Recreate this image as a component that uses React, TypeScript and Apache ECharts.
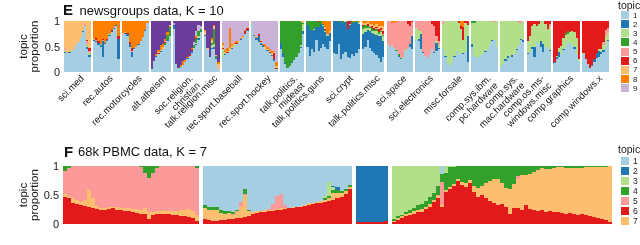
import React, { useEffect, useRef } from "react";
import * as echarts from "echarts";

const FONT = "'Liberation Sans', Arial, Helvetica, sans-serif";
const INK = "#1a1a1a";

// ColorBrewer "Paired" palette, topic k -> palette[k-1]
const palette = ["#a6cee3", "#1f78b4", "#b2df8a", "#33a02c", "#fb9a99", "#e31a1c", "#fdbf6f", "#ff7f00", "#cab2d6", "#6a3d9a"];

// ---------- Panel E: newsgroups, K = 10 ----------
const newsTitleLetter = "E";
const newsTitle = "newsgroups data, K = 10";
const newsNames = [
  "sci.med", "rec.autos", "rec.motorcycles", "alt.atheism", "soc.religion.\nchristian",
  "talk.religion.misc", "rec.sport.baseball", "rec.sport.hockey", "talk.politics.\nmideast", "talk.politics.guns",
  "sci.crypt", "talk.politics.misc", "sci.space", "sci.electronics", "misc.forsale",
  "comp.sys.ibm.\npc.hardware", "comp.sys.\nmac.hardware", "comp.os.ms-\nwindows.misc", "comp.graphics", "comp.windows.x",
];
// the topic that fills the rest of each document's bar
const newsDominant = [7, 8, 8, 10, 10, 10, 9, 9, 4, 2, 2, 8, 5, 5, 3, 3, 3, 3, 6, 6];
const newsTopics = [1, 2, 3, 4, 5, 6, 7, 8, 9, 10];
const newsLegend = ["1", "2", "3", "4", "5", "6", "7", "8", "9"];

const sciMed = {
  1: [0.38, 0.36, 0.38, 0.42, 0.46, 0.52, 0.58, 0.66, 0.78, 0.9, 0.45, 0.3],
  2: [0.02, 0, 0.01, 0, 0, 0, 0, 0, 0.02, 0, 0.05, 0.03],
  3: [0.03, 0.02, 0, 0.02, 0, 0, 0, 0.02, 0, 0, 0.03, 0.05],
  5: [0.04, 0.02, 0, 0, 0, 0, 0, 0, 0, 0.06, 0.08, 0.04],
  6: [0, 0, 0, 0, 0, 0, 0, 0, 0, 0, 0.02, 0.05],
};
const recAutos = {
  1: [0.6, 0.58, 0.52, 0.5, 0.3, 0.54, 0.6, 0.7, 0.78, 0.84, 0.9, 0.25],
  2: [0.02, 0.03, 0.05, 0.02, 0.3, 0.03, 0.02, 0.02, 0.02, 0.03, 0.02, 0.4],
  3: [0.02, 0, 0, 0.03, 0, 0, 0, 0.02, 0, 0, 0, 0],
  5: [0, 0.02, 0, 0, 0.02, 0, 0, 0, 0, 0.02, 0, 0],
  6: [0, 0.03, 0.04, 0, 0.02, 0, 0.02, 0, 0.02, 0, 0, 0.05],
};
const recMotorcycles = {
  1: [0.72, 0.74, 0.7, 0.5, 0.3, 0.45, 0.5, 0.52, 0.6, 0.68, 0.8, 0.96],
  2: [0, 0.02, 0.04, 0.05, 0.1, 0.02, 0, 0.03, 0, 0, 0.02, 0],
  5: [0.02, 0, 0, 0, 0.02, 0, 0, 0, 0, 0, 0, 0],
  6: [0, 0, 0.02, 0.04, 0.06, 0, 0, 0, 0, 0, 0, 0],
  7: [0.03, 0.02, 0, 0, 0, 0, 0, 0, 0, 0, 0, 0],
};
const altAtheism = {
  1: [0.05, 0.22, 0.3, 0.35, 0.4, 0.46, 0.53, 0.6, 0.7],
  2: [0, 0, 0.02, 0, 0.02, 0, 0, 0.03, 0],
  4: [0, 0, 0, 0, 0, 0, 0.03, 0.1, 0.18],
  6: [0, 0, 0, 0.02, 0, 0, 0.02, 0, 0],
  7: [0, 0, 0, 0.02, 0.02, 0.03, 0.02, 0, 0],
  8: [0, 0, 0.03, 0.04, 0.08, 0.06, 0.04, 0.05, 0.02],
  9: [0, 0, 0, 0, 0, 0, 0, 0, 0.03],
};
const socReligion = {
  1: [0.85, 0.15, 0.08, 0.1, 0.14, 0.2, 0.26, 0.32, 0.38, 0.45, 0.52, 0.62, 0.78],
  2: [0.08, 0, 0, 0, 0, 0, 0.02, 0, 0.03, 0, 0.02, 0.04, 0.02],
  3: [0, 0, 0, 0, 0, 0, 0, 0, 0, 0.02, 0.02, 0.04, 0],
  4: [0, 0, 0, 0, 0, 0, 0, 0, 0, 0.06, 0.08, 0.1, 0.05],
  6: [0, 0, 0, 0, 0, 0, 0, 0.03, 0.04, 0, 0.03, 0, 0],
  8: [0, 0, 0, 0.04, 0.07, 0.03, 0.02, 0, 0.03, 0, 0.03, 0, 0],
  9: [0.04, 0, 0, 0, 0, 0, 0, 0, 0, 0.05, 0.1, 0.12, 0.05],
};
const talkReligion = {
  1: [0.7, 0.45, 0.3, 0.45, 0.45, 0.25, 0.05],
  2: [0.02, 0, 0, 0.03, 0.05, 0.02, 0],
  3: [0, 0, 0, 0.04, 0.05, 0, 0],
  4: [0, 0, 0, 0.05, 0.3, 0.05, 0],
  7: [0.08, 0.02, 0, 0.05, 0.05, 0.02, 0.1],
  8: [0.02, 0, 0, 0.04, 0.03, 0, 0.05],
};
const recBaseball = {
  1: [0.3, 0.33, 0.38, 0.42, 0.45, 0.5, 0.54, 0.58, 0.62, 0.67, 0.74, 0.8],
  2: [0, 0.02, 0, 0, 0.02, 0, 0, 0, 0.02, 0, 0, 0.02],
  3: [0.15, 0.02, 0, 0, 0, 0.02, 0, 0, 0, 0, 0, 0],
  6: [0.02, 0, 0.02, 0, 0, 0, 0.02, 0, 0, 0, 0.06, 0.04],
  7: [0.05, 0.03, 0.02, 0.05, 0.04, 0.02, 0, 0.03, 0, 0.02, 0, 0.02],
  8: [0.05, 0.03, 0.05, 0.4, 0.03, 0.02, 0.04, 0, 0.03, 0.02, 0.03, 0],
};
const recHockey = {
  1: [0.95, 0.7, 0.62, 0.58, 0.52, 0.5, 0.46, 0.42, 0.38, 0.32, 0.22, 0.06],
  2: [0, 0.03, 0.05, 0.12, 0.04, 0.02, 0, 0.02, 0, 0.02, 0.03, 0],
  3: [0.02, 0, 0, 0, 0.02, 0, 0, 0, 0, 0, 0, 0],
  6: [0, 0, 0, 0.05, 0.02, 0, 0, 0, 0.02, 0, 0.12, 0.02],
  7: [0, 0.02, 0, 0, 0.02, 0, 0.03, 0.02, 0.02, 0.04, 0.02, 0.04],
  8: [0, 0, 0.02, 0, 0, 0.02, 0.05, 0.03, 0.04, 0.03, 0.02, 0.08],
};
const talkMideast = {
  1: [0.45, 0.3, 0.15, 0.08, 0.12, 0.18, 0.24, 0.3, 0.38, 0.48, 0.75],
  2: [0.12, 0.08, 0.03, 0, 0, 0.02, 0, 0, 0, 0.02, 0.05],
  3: [0, 0, 0, 0, 0, 0, 0, 0, 0, 0.03, 0.15],
  7: [0, 0, 0, 0, 0, 0, 0, 0, 0, 0.02, 0.03],
};
const talkGuns = {
  1: [0.5, 0.32, 0.45, 0.4, 0.62, 0.42, 0.48, 0.55, 0.5, 0.45, 0.6],
  3: [0, 0, 0, 0.02, 0, 0, 0, 0.02, 0.03, 0.02, 0],
  4: [0.08, 0.15, 0.2, 0.15, 0.12, 0.1, 0.05, 0.03, 0.02, 0, 0],
  6: [0, 0, 0, 0, 0, 0.02, 0, 0, 0.02, 0, 0],
  7: [0, 0, 0, 0, 0, 0, 0, 0, 0.03, 0.02, 0.04],
  8: [0, 0, 0, 0, 0, 0, 0, 0.05, 0.12, 0.25, 0.2],
};
const sciCrypt = {
  1: [0.38, 0.35, 0.55, 0.25, 0.35, 0.4, 0.3, 0.28, 0.35, 0.32, 0.38, 0.45],
  3: [0, 0, 0, 0, 0, 0.02, 0, 0.03, 0, 0, 0, 0.03],
  4: [0, 0, 0.02, 0, 0.03, 0, 0, 0, 0.03, 0.02, 0.02, 0],
  6: [0, 0, 0, 0, 0, 0, 0.15, 0.05, 0, 0, 0, 0],
  8: [0, 0, 0, 0, 0, 0, 0, 0, 0, 0.02, 0, 0.02],
};
const talkPoliticsMisc = {
  1: [0.45, 0.5, 0.62, 0.48, 0.42, 0.38, 0.33, 0.28, 0.2, 0.3],
  2: [0.3, 0.28, 0.2, 0.32, 0.34, 0.36, 0.4, 0.42, 0.5, 0.3],
  3: [0.1, 0.08, 0.05, 0.06, 0.05, 0.06, 0.08, 0.05, 0.08, 0.1],
  4: [0.05, 0.06, 0.03, 0.02, 0.05, 0.03, 0.03, 0.04, 0.02, 0.02],
  5: [0, 0, 0, 0.02, 0, 0, 0.03, 0, 0.02, 0.03],
  6: [0.02, 0, 0.05, 0, 0.05, 0.03, 0.02, 0.06, 0.05, 0.05],
  7: [0.05, 0.04, 0.03, 0.05, 0.04, 0.05, 0.06, 0.05, 0.04, 0.1],
};
const sciSpace = {
  1: [0.52, 0.5, 0.52, 0.48, 0.42, 0.3, 0.26, 0.3, 0.42, 0.48, 0.5, 0.45],
  2: [0, 0, 0, 0, 0, 0.02, 0, 0, 0, 0, 0.05, 0.25],
  3: [0.02, 0, 0, 0, 0, 0, 0, 0, 0.02, 0, 0, 0],
  4: [0, 0, 0, 0, 0.02, 0.03, 0.02, 0, 0, 0, 0, 0],
  6: [0, 0, 0, 0, 0, 0, 0, 0, 0, 0.05, 0.1, 0.02],
  8: [0, 0, 0.03, 0.04, 0.02, 0, 0, 0, 0, 0, 0, 0],
};
const sciElectronics = {
  1: [0.62, 0.6, 0.45, 0.38, 0.32, 0.28, 0.36, 0.45, 0.38, 0.42, 0.45],
  2: [0, 0.05, 0.3, 0.02, 0, 0, 0, 0, 0.02, 0.15, 0.03],
  3: [0.25, 0.15, 0.05, 0, 0, 0, 0, 0, 0, 0.03, 0.05],
  6: [0, 0, 0, 0, 0, 0, 0, 0.05, 0.1, 0.3, 0.4],
};
const miscForsale = {
  1: [0.45, 0.3, 0.15, 0.12, 0.2, 0.3, 0.42, 0.36, 0.38, 0.35, 0.4, 0.2],
  2: [0, 0.02, 0, 0, 0, 0.02, 0, 0, 0, 0.03, 0, 0.5],
  5: [0.05, 0, 0, 0, 0, 0, 0, 0, 0, 0, 0, 0],
  6: [0, 0, 0, 0, 0, 0, 0, 0.03, 0.05, 0.25, 0.03, 0.08],
  8: [0, 0, 0, 0, 0, 0, 0, 0, 0.1, 0.12, 0, 0],
};
const compIbm = {
  1: [0.5, 0.32, 0.28, 0.3, 0.33, 0.36, 0.4, 0.46, 0.52, 0.6, 0.62, 0.5],
  2: [0.05, 0, 0, 0, 0, 0, 0.02, 0, 0, 0.03, 0, 0],
  4: [0.04, 0.03, 0, 0, 0, 0, 0, 0, 0, 0, 0, 0],
  5: [0, 0, 0, 0, 0, 0, 0, 0, 0, 0, 0.02, 0],
};
const compMac = {
  1: [0.1, 0.15, 0.22, 0.28, 0.3, 0.3, 0.36, 0.44, 0.52, 0.62, 0.58],
  2: [0, 0, 0.04, 0.03, 0, 0.04, 0, 0.02, 0, 0.03, 0.05],
  5: [0, 0, 0, 0, 0, 0, 0, 0, 0.03, 0.04, 0],
};
const compMsWindows = {
  1: [0.35, 0.4, 0.45, 0.3, 0.58, 0.55, 0.5, 0.4, 0.5, 0.48, 0.42],
  2: [0.02, 0, 0.05, 0.2, 0, 0, 0.1, 0.15, 0, 0, 0.02],
  5: [0, 0, 0, 0, 0, 0, 0, 0, 0, 0.02, 0.04],
  6: [0.4, 0.3, 0.1, 0.05, 0.1, 0.05, 0, 0, 0.05, 0.15, 0.05],
};
const compGraphics = {
  1: [0.18, 0.25, 0.3, 0.36, 0.44, 0.5, 0.58, 0.56, 0.52, 0.46, 0.36, 0.2],
  2: [0.02, 0.05, 0.1, 0, 0.02, 0, 0, 0, 0, 0.03, 0, 0],
  3: [0, 0.02, 0.08, 0.15, 0.2, 0.22, 0.17, 0.22, 0.28, 0.3, 0.3, 0.05],
  4: [0, 0, 0, 0, 0, 0.04, 0.05, 0, 0, 0, 0, 0],
};
const compWindowsX = {
  1: [0.35, 0.25, 0.15, 0.08, 0.12, 0.2, 0.28, 0.3, 0.35, 0.4, 0.5, 0.6],
  2: [0, 0, 0, 0, 0.02, 0.05, 0.1, 0.12, 0.05, 0.03, 0, 0.02],
  3: [0.02, 0, 0, 0, 0, 0, 0, 0.03, 0.05, 0.1, 0.2, 0.15],
  5: [0, 0, 0, 0, 0, 0, 0, 0, 0, 0.05, 0.12, 0.1],
};
const newsGroups = [
  sciMed, recAutos, recMotorcycles, altAtheism, socReligion, talkReligion, recBaseball, recHockey,
  talkMideast, talkGuns, sciCrypt, talkPoliticsMisc, sciSpace, sciElectronics, miscForsale,
  compIbm, compMac, compMsWindows, compGraphics, compWindowsX,
];

// ---------- Panel F: 68k PBMC, K = 7 ----------
const pbmcTitleLetter = "F";
const pbmcTitle = "68k PBMC data, K = 7";
const pbmcDominant = [5, 1, 2, 3];
const pbmcStackOrder = [6, 7, 5, 4, 3, 2, 1];
const pbmcLegend = ["1", "2", "3", "4", "5", "6", "7"];

const pbmcA = {
  6: [0.47, 0.44, 0.37, 0.35, 0.33, 0.31, 0.29, 0.27, 0.26, 0.24, 0.24, 0.26, 0.27, 0.25, 0.24, 0.23, 0.22,
    0.2, 0.19, 0.18, 0.17, 0.08, 0.15, 0.17, 0.17, 0.18, 0.17, 0.16, 0.15, 0.14, 0.13, 0.12, 0.1, 0.05],
  7: [0.05, 0.04, 0.07, 0.06, 0.05, 0.1, 0.3, 0.18, 0.05, 0.04, 0.04, 0.03, 0.03, 0.04, 0.03, 0.04, 0.05,
    0.06, 0.07, 0.06, 0.1, 0.12, 0.06, 0.05, 0.05, 0.06, 0.05, 0.06, 0.08, 0.1, 0.12, 0.14, 0.12, 0.1],
  4: [0.08, 0.03, 0, 0, 0, 0, 0, 0, 0, 0, 0, 0, 0, 0, 0, 0, 0,
    0, 0, 0.02, 0.12, 0.2, 0.12, 0.03, 0, 0, 0, 0, 0, 0, 0, 0, 0, 0.03],
};
const pbmcB = {
  6: [0.08, 0.07, 0.05, 0.06, 0.07, 0.07, 0.09, 0.08, 0.1, 0.1, 0.12, 0.14, 0.17, 0.19, 0.2, 0.21, 0.22, 0.23, 0.24,
    0.25, 0.26, 0.27, 0.28, 0.29, 0.3, 0.31, 0.32, 0.34, 0.36, 0.37, 0.38, 0.4, 0.42, 0.44, 0.47, 0.52, 0.6],
  7: [0.2, 0.18, 0.2, 0.18, 0.12, 0.1, 0.1, 0.08, 0.1, 0.2, 0.38, 0.08, 0.04, 0.03, 0.02, 0.03, 0.02, 0.02, 0.02,
    0.02, 0.01, 0.01, 0.01, 0.01, 0.01, 0.02, 0.05, 0.02, 0.02, 0.03, 0.04, 0.05, 0.12, 0.1, 0.06, 0.05, 0.04],
  5: [0, 0, 0, 0, 0, 0, 0, 0.02, 0.03, 0.08, 0.02, 0, 0, 0, 0, 0, 0.02, 0.1, 0.22,
    0.25, 0.05, 0, 0, 0, 0, 0, 0, 0, 0, 0, 0, 0, 0, 0, 0, 0, 0],
  4: [0.04, 0.05, 0.05, 0.06, 0.05, 0.05, 0.04, 0.03, 0.02, 0, 0.08, 0.02, 0, 0, 0.01, 0.01, 0, 0, 0,
    0, 0, 0, 0, 0, 0, 0, 0, 0, 0, 0, 0.02, 0.03, 0.04, 0.05, 0.04, 0.04, 0.03],
  3: [0, 0, 0, 0, 0, 0, 0, 0, 0, 0, 0, 0, 0, 0, 0, 0, 0, 0, 0,
    0, 0, 0, 0, 0, 0, 0, 0, 0, 0, 0, 0.05, 0.25, 0.05, 0, 0, 0, 0],
  2: [0, 0, 0, 0, 0, 0, 0, 0, 0, 0, 0, 0, 0, 0, 0, 0, 0, 0, 0,
    0, 0, 0, 0, 0, 0, 0, 0, 0, 0, 0, 0, 0, 0.03, 0.05, 0, 0, 0],
};
const pbmcC = {
  6: [0.04, 0.03, 0.03, 0.03, 0.03, 0.03, 0.04, 0.06],
};
const pbmcD = {
  6: [0.04, 0.07, 0.1, 0.13, 0.16, 0.18, 0.2, 0.21, 0.26, 0.3, 0.38, 0.45, 0.3, 0.55, 0.6, 0.66, 0.74, 0.68,
    0.64, 0.7, 0.55, 0.47, 0.5, 0.45, 0.4, 0.36, 0.33, 0.35, 0.3, 0.18, 0.27, 0.27, 0.25, 0.33, 0.26,
    0.24, 0.23, 0.25, 0.21, 0.22, 0.2, 0.21, 0.19, 0.18, 0.19, 0.17, 0.16, 0.17, 0.15, 0.13, 0.12, 0.1, 0.09, 0.07, 0.04],
  7: [0.02, 0.03, 0.03, 0.04, 0.03, 0.04, 0.05, 0.05, 0.04, 0.04, 0.03, 0.03, 0.02, 0.03, 0.03, 0.03, 0.03, 0.05,
    0.06, 0.06, 0.1, 0.15, 0.15, 0.25, 0.35, 0.42, 0.45, 0.35, 0.32, 0.42, 0.42, 0.5, 0.6, 0.52, 0.6,
    0.66, 0.7, 0.72, 0.74, 0.73, 0.77, 0.77, 0.79, 0.78, 0.77, 0.79, 0.81, 0.8, 0.83, 0.85, 0.86, 0.88, 0.89, 0.92, 0.96],
  5: [0, 0, 0, 0, 0, 0, 0, 0, 0, 0, 0, 0.02, 0.4, 0, 0, 0, 0, 0,
    0, 0, 0, 0, 0, 0, 0, 0, 0, 0, 0, 0, 0, 0.05, 0, 0, 0,
    0, 0, 0, 0, 0, 0, 0, 0, 0, 0, 0, 0, 0, 0, 0, 0, 0, 0, 0, 0],
  4: [0.02, 0.03, 0.03, 0.03, 0.05, 0.06, 0.07, 0.09, 0.1, 0.12, 0.12, 0.15, 0.14, 0.3, 0.35, 0.3, 0.23, 0.27,
    0.3, 0.24, 0.35, 0.38, 0.35, 0.3, 0.25, 0.22, 0.22, 0.3, 0.38, 0.4, 0.31, 0.18, 0.15, 0.15, 0.14,
    0.1, 0.07, 0.03, 0.05, 0.05, 0.03, 0.02, 0.02, 0.04, 0.04, 0.04, 0.03, 0.03, 0.02, 0.02, 0.02, 0.02, 0.02, 0.01, 0],
  1: [0, 0, 0, 0, 0, 0, 0, 0, 0, 0, 0, 0, 0.14, 0, 0, 0, 0, 0,
    0, 0, 0, 0, 0, 0, 0, 0, 0, 0, 0, 0, 0, 0, 0, 0, 0,
    0, 0, 0, 0, 0, 0, 0, 0, 0, 0, 0, 0, 0, 0, 0, 0, 0, 0, 0, 0],
};
const pbmcGroups = [pbmcA, pbmcB, pbmcC, pbmcD];

const yTicks = [0, 0.5, 1];
const yName = "topic\nproportion";
const legendTitle = "topic";

type Group = Record<number, number[]>;

function buildPanel(groups: Group[], dominant: number[], topics: number[], prefix: string, names?: string[]) {
  const cats: string[] = [];
  const labelOf: Record<string, string> = {};
  const series: Record<number, (number | null)[]> = {};
  topics.forEach((t) => (series[t] = []));
  groups.forEach((g, gi) => {
    if (gi > 0) {
      const id = `${prefix}-gap-${gi}`;
      cats.push(id);
      labelOf[id] = "";
      topics.forEach((t) => series[t].push(null));
    }
    const n = (Object.values(g)[0] as number[]).length;
    const mid = Math.floor(n / 2);
    for (let j = 0; j < n; j++) {
      const id = `${prefix}-${gi}-${j}`;
      cats.push(id);
      labelOf[id] = names && j === mid ? names[gi] : "";
      let sum = 0;
      topics.forEach((t) => {
        if (t !== dominant[gi]) sum += (g[t] && g[t][j]) || 0;
      });
      topics.forEach((t) => {
        const v = t === dominant[gi] ? Math.max(0, +(1 - sum).toFixed(4)) : (g[t] && g[t][j]) || 0;
        series[t].push(v > 0 ? v : null);
      });
    }
  });
  return { cats, labelOf, series };
}

export default function App() {
  const ref = useRef<HTMLDivElement>(null);

  useEffect(() => {
    if (!ref.current) return;
    const chart = echarts.init(ref.current, undefined, { renderer: "svg" });

    const news = buildPanel(newsGroups as Group[], newsDominant, newsTopics, "n", newsNames);
    const pbmc = buildPanel(pbmcGroups as Group[], pbmcDominant, pbmcStackOrder, "p");

    const barSeries = (t: number, stack: string, axis: number, data: (number | null)[]) => ({
      type: "bar",
      name: String(t),
      stack,
      xAxisIndex: axis,
      yAxisIndex: axis,
      data,
      barCategoryGap: "0%",
      silent: true,
      itemStyle: { color: palette[t - 1] },
      emphasis: { disabled: true },
    });

    const yAxisBase = (gridIndex: number) => ({
      type: "value",
      gridIndex,
      min: 0,
      max: 1,
      interval: 0.5,
      axisLine: { show: false },
      axisTick: { show: false },
      splitLine: { show: false },
      axisLabel: {
        margin: 4,
        fontSize: 11,
        fontFamily: FONT,
        color: INK,
        formatter: (v: number) => (yTicks.includes(v) ? String(v) : ""),
      },
    });

    const legendItems = (labels: string[], top: number, step: number, titleY: number, fs: number) => {
      const out: any[] = [
        { type: "text", x: 618, y: titleY, style: { text: legendTitle, font: `10.5px ${FONT}`, fill: INK, verticalAlign: "middle", lineHeight: 9 } },
      ];
      labels.forEach((l, i) => {
        const cy = top + i * step;
        out.push({ type: "rect", shape: { x: 620.5, y: cy - 4, width: 8, height: 8 }, style: { fill: palette[Number(l) - 1] } });
        out.push({ type: "text", x: 633, y: cy, style: { text: l, font: `${fs}px ${FONT}`, fill: INK, verticalAlign: "middle", lineHeight: fs } });
      });
      return out;
    };

    const graphic: any[] = [
      { type: "text", x: 63, y: 9.5, style: { text: newsTitleLetter, font: `bold 15px ${FONT}`, fill: "#111", verticalAlign: "middle" } },
      { type: "text", x: 79.5, y: 10, style: { text: newsTitle, font: `13px ${FONT}`, fill: "#111", verticalAlign: "middle" } },
      { type: "text", x: 64, y: 151, style: { text: pbmcTitleLetter, font: `bold 15px ${FONT}`, fill: "#111", verticalAlign: "middle" } },
      { type: "text", x: 78, y: 151.5, style: { text: pbmcTitle, font: `13px ${FONT}`, fill: "#111", verticalAlign: "middle" } },
      {
        type: "text", x: 28.5, y: 46.5, rotation: Math.PI / 2,
        style: { text: yName, font: `11.5px ${FONT}`, fill: INK, align: "center", verticalAlign: "middle", lineHeight: 10.5 },
      },
      {
        type: "text", x: 28.5, y: 195, rotation: Math.PI / 2,
        style: { text: yName, font: `11.5px ${FONT}`, fill: INK, align: "center", verticalAlign: "middle", lineHeight: 10.5 },
      },
      ...legendItems(newsLegend, 15, 9.16, 4.5, 8),
      ...legendItems(pbmcLegend, 161, 10, 149, 8.5),
    ];

    chart.setOption({
      animation: false,
      grid: [
        { left: 64, top: 21, width: 545, height: 51 },
        { left: 63, top: 166, width: 549, height: 58 },
      ],
      xAxis: [
        {
          type: "category",
          gridIndex: 0,
          data: news.cats,
          axisLine: { show: false },
          axisTick: { show: false },
          axisLabel: {
            interval: 0,
            rotate: 45,
            margin: 1,
            fontSize: 9.5,
            lineHeight: 10,
            fontFamily: FONT,
            color: INK,
            verticalAlign: "top",
            formatter: (v: string) => news.labelOf[v] || "",
          },
        },
        {
          type: "category",
          gridIndex: 1,
          data: pbmc.cats,
          axisLine: { show: false },
          axisTick: { show: false },
          axisLabel: { show: false },
        },
      ],
      yAxis: [yAxisBase(0), yAxisBase(1)],
      series: [
        ...newsTopics.map((t) => barSeries(t, "news", 0, news.series[t])),
        ...pbmcStackOrder.map((t) => barSeries(t, "pbmc", 1, pbmc.series[t])),
      ],
      graphic,
    });

    return () => chart.dispose();
  }, []);

  return (
    <>
      <style>{`#echart-host svg path { shape-rendering: crispEdges; }`}</style>
      <div id="echart-host" ref={ref} style={{ position: "fixed", left: 0, top: 0, width: 640, height: 245 }} />
    </>
  );
}
